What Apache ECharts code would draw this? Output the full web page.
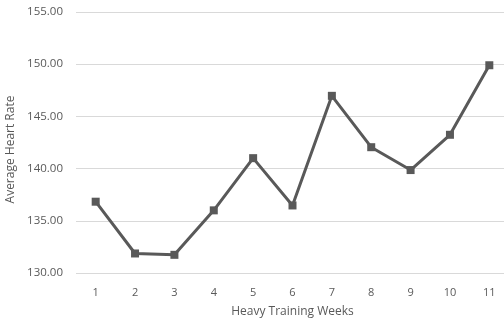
<!DOCTYPE html>
<html>
<head>
<meta charset="utf-8">
<script src="https://cdn.jsdelivr.net/npm/echarts@6/dist/echarts.min.js"></script>
<style>
  html, body { margin: 0; padding: 0; background: #fff; }
  #main { width: 504px; height: 320px; }
</style>
</head>
<body>
<div id="main"></div>
<script>
const weeks = ['1', '2', '3', '4', '5', '6', '7', '8', '9', '10', '11'];
const heartRate = [136.83, 131.87, 131.74, 136.0, 141.0, 136.47, 146.97, 142.05, 139.86, 143.24, 149.9];

const chart = echarts.init(document.getElementById('main'));
const font = '"Open Sans", sans-serif';
chart.setOption({
  animation: false,
  grid: { left: 76, top: 12, width: 433, bottom: 47, outerBoundsMode: 'none' },
  xAxis: {
    type: 'category',
    data: weeks,
    name: 'Heavy Training Weeks',
    nameLocation: 'middle',
    nameGap: 33,
    nameTextStyle: { color: '#595959', fontSize: 12, fontFamily: font },
    axisLine: { show: false },
    axisTick: { show: false },
    axisLabel: { color: '#595959', fontSize: 11, fontFamily: font, margin: 14 }
  },
  yAxis: {
    type: 'value',
    min: 130,
    max: 155,
    interval: 5,
    name: 'Average Heart Rate',
    nameLocation: 'middle',
    nameGap: 57,
    nameTextStyle: { color: '#595959', fontSize: 12, fontFamily: font, padding: [0, 14, 0, 0] },
    axisLabel: {
      color: '#595959', fontSize: 11.5, fontFamily: font, margin: 13,
      formatter: v => v.toFixed(2)
    },
    splitLine: { lineStyle: { color: '#d9d9d9', width: 1 } }
  },
  series: [{
    type: 'line',
    data: heartRate,
    symbol: 'rect',
    symbolSize: 8,
    lineStyle: { color: '#595959', width: 3 },
    itemStyle: { color: '#595959' }
  }]
});
</script>
</body>
</html>
